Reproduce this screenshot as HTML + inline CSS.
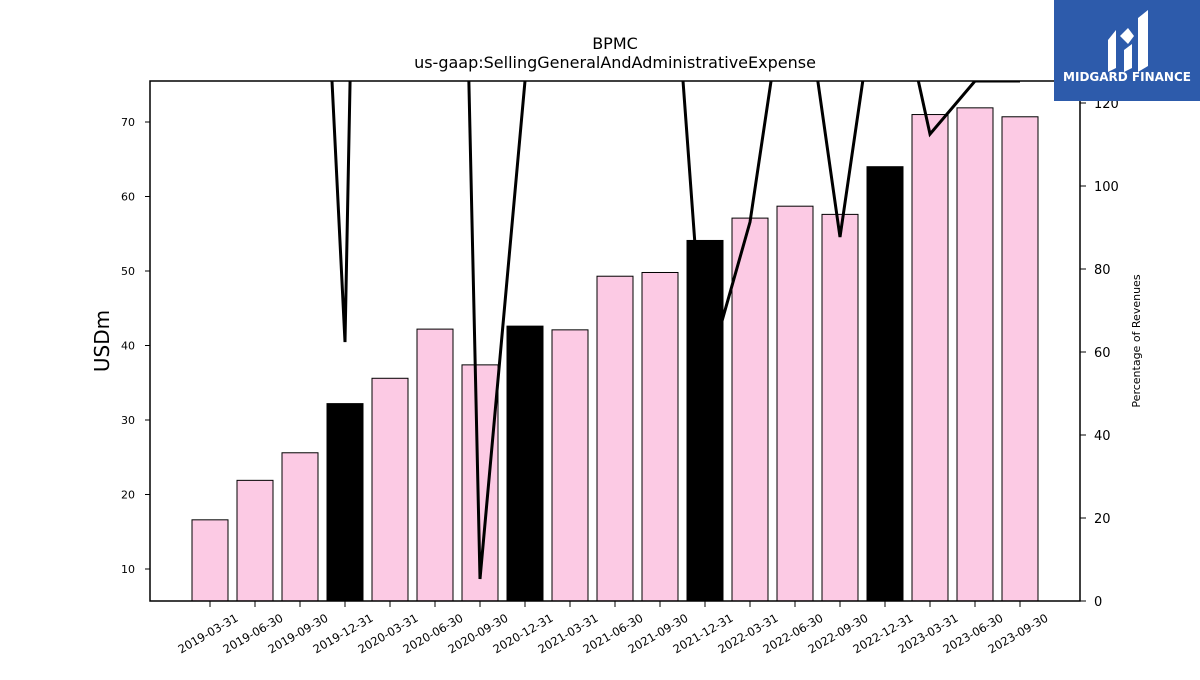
<!DOCTYPE html>
<html><head><meta charset="utf-8"><style>
body{margin:0;background:#fff;font-family:"Liberation Sans","DejaVu Sans",sans-serif;}
svg text{font-family:"DejaVu Sans","Liberation Sans",sans-serif;}
</style></head><body>
<svg id="chart" width="1200" height="675" xmlns="http://www.w3.org/2000/svg">
<rect width="1200" height="675" fill="#fff"/>
<text x="615" y="49" text-anchor="middle" font-size="16">BPMC</text>
<text x="615" y="68" text-anchor="middle" font-size="16">us-gaap:SellingGeneralAndAdministrativeExpense</text>
<g id="plot"></g>
<text transform="translate(109,341) rotate(-90)" text-anchor="middle" font-size="20">USDm</text>
<text transform="translate(1140,341) rotate(-90)" text-anchor="middle" font-size="11">Percentage of Revenues</text>
<g>
<rect x="1054" y="0" width="146" height="101" fill="#2d5bab"/>
<path d="M1108 40 L1116 30 L1116 68 L1108 72 Z M1120 36 L1128 28 L1134 36 L1128 44 Z M1124 50 L1132 44 L1132 68 L1124 72 Z M1138 18 L1148 10 L1148 66 L1138 72 Z" fill="#fff"/>
<text x="1127" y="81" text-anchor="middle" font-size="12" font-weight="bold" fill="#fff" font-family="Liberation Sans">MIDGARD FINANCE</text>
</g>
</svg>
<script>
const categories=["2019-03-31","2019-06-30","2019-09-30","2019-12-31","2020-03-31","2020-06-30","2020-09-30","2020-12-31","2021-03-31","2021-06-30","2021-09-30","2021-12-31","2022-03-31","2022-06-30","2022-09-30","2022-12-31","2023-03-31","2023-06-30","2023-09-30"];
const sgaValues=[16.6,21.9,25.6,32.2,35.6,42.2,37.4,42.6,42.1,49.3,49.8,54.1,57.1,58.7,57.6,64.0,71.0,71.9,70.7];
const pctValues=[250,260,280,62.4,620,490,5.3,125.3,200,200,201,53,91.3,164,87.7,162,112.5,125.3,125.3];
const yTicks=[10,20,30,40,50,60,70];
const y2Ticks=[0,20,40,60,80,100,120];
const X0=150,X1=1080,Y0=81,Y1=601;
const NS="http://www.w3.org/2000/svg";
const g=document.getElementById('plot');
const xPos=i=>210+i*(X1-X0-120)/(categories.length-1);
const yL=v=>569-(v-10)*(569-122)/60;
const yR=v=>601-v*(601-103)/120;
function mk(t,a){const e=document.createElementNS(NS,t);for(const k in a)e.setAttribute(k,a[k]);g.appendChild(e);return e;}
const defs=mk('defs',{});
const cp=document.createElementNS(NS,'clipPath');cp.setAttribute('id','clip');
const cr=document.createElementNS(NS,'rect');cr.setAttribute('x',X0);cr.setAttribute('y',Y0);cr.setAttribute('width',X1-X0);cr.setAttribute('height',Y1-Y0);
cp.appendChild(cr);defs.appendChild(cp);
const bw=36;
function bar(i){const black=(categories[i].slice(5)==='12-31');
 const r=mk('rect',{x:xPos(i)-bw/2,y:yL(sgaValues[i]),width:bw,height:Y1-yL(sgaValues[i]),fill:black?'#000':'#fccae4',stroke:'#000','stroke-width':1});
 
 }
categories.forEach((c,i)=>{if(c.slice(5)!=='12-31')bar(i);});
const pts=pctValues.map((v,i)=>xPos(i)+','+yR(v)).join(' ');
const ln=mk('polyline',{points:pts,fill:'none',stroke:'#000','stroke-width':3,'clip-path':'url(#clip)'});


categories.forEach((c,i)=>{if(c.slice(5)==='12-31')bar(i);});
const fr=mk('rect',{x:X0,y:Y0,width:X1-X0,height:Y1-Y0,fill:'none',stroke:'#000','stroke-width':1.5});


yTicks.forEach(v=>{const y=yL(v);mk('line',{x1:X0-5,x2:X0,y1:y,y2:y,stroke:'#000'});
 const t=mk('text',{x:X0-15,y:y+4,'text-anchor':'end','font-size':11});t.textContent=v;
 
 });
y2Ticks.forEach(v=>{const y=yR(v);mk('line',{x1:X1,x2:X1+6,y1:y,y2:y,stroke:'#000'});
 const t=mk('text',{x:X1+14,y:y+5,'font-size':13});t.textContent=v;
 
 });
categories.forEach((c,i)=>{const x=xPos(i);mk('line',{x1:x,x2:x,y1:Y1,y2:Y1+6,stroke:'#000'});
 const t=mk('text',{transform:`translate(${x},${Y1+36}) rotate(-30)`,'text-anchor':'middle','font-size':11.5});t.textContent=c;
 
 });
</script>
</body></html>
